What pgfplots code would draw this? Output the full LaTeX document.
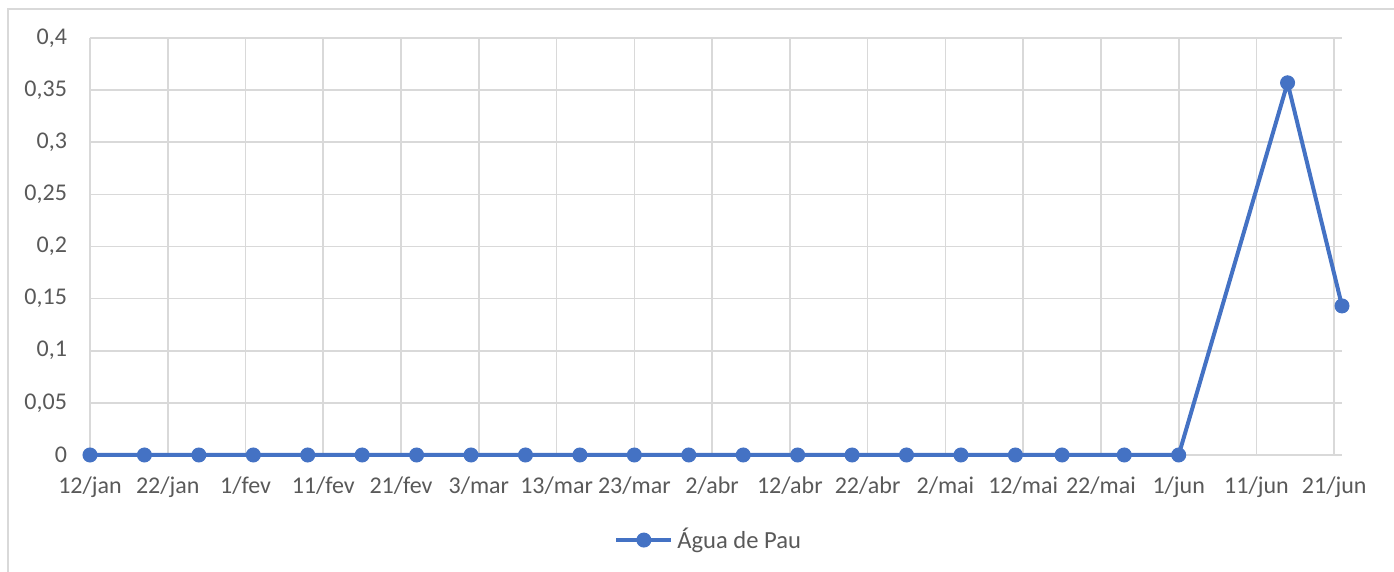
\documentclass[border=0pt]{standalone}
\usepackage{pgfplots}
\pgfplotsset{compat=1.18}
\usepackage{fontspec}
\setmainfont{Carlito}
\definecolor{xlblue}{RGB}{68,114,196}
\definecolor{xlgrid}{RGB}{217,217,217}
\definecolor{xltext}{RGB}{89,89,89}
\begin{document}
\begin{tikzpicture}
\begin{axis}[
  at={(45pt,58.5pt)}, anchor=south west,
  scale only axis, width=626pt, height=208.5pt,
  xmin=0, xmax=161, ymin=0, ymax=0.4,
  clip=false,
  axis line style={draw=none},
  grid=major, grid style={draw=xlgrid, line width=0.8pt},
  major tick length=0pt,
  xtick={0,10,...,160},
  xticklabels={12/jan,22/jan,1/fev,11/fev,21/fev,3/mar,13/mar,23/mar,2/abr,12/abr,22/abr,2/mai,12/mai,22/mai,1/jun,11/jun,21/jun},
  ytick={0,0.05,...,0.41},
  /pgf/number format/.cd, use comma, fixed, precision=2, assume math mode=true,
  /pgfplots/.cd,
  tick label style={font=\fontsize{12}{14}\selectfont, text=xltext},
  xticklabel style={yshift=-7.5pt},
  yticklabel style={xshift=-8pt},
  legend style={at={(0.495,-0.204)}, anchor=center, draw=none, fill=none,
    font=\fontsize{12.3}{14}\selectfont, text=xltext},
  legend image code/.code={\draw[mark repeat=2,mark phase=2] plot coordinates {(0pt,0pt)(13.75pt,0pt)(27.5pt,0pt)};},
]
\addplot[color=xlblue, line width=2pt, mark=*, mark size=3.5pt, mark options={fill=xlblue, draw=xlblue, line width=0.5pt}]
coordinates {
(0,0) (7,0) (14,0) (21,0) (28,0) (35,0) (42,0) (49,0) (56,0) (63,0) (70,0) (77,0)
(84,0) (91,0) (98,0) (105,0) (112,0) (119,0) (125,0) (133,0) (140,0) (154,0.357) (161,0.143)
};
\addlegendentry{Água de Pau}
\end{axis}
\draw[xlgrid, line width=0.8pt] (4pt,0pt) -- (4pt,281.5pt) -- (697pt,281.5pt);
\pgfresetboundingbox
\path[use as bounding box] (0,0) rectangle (697pt,286pt);
\end{tikzpicture}
\end{document}
